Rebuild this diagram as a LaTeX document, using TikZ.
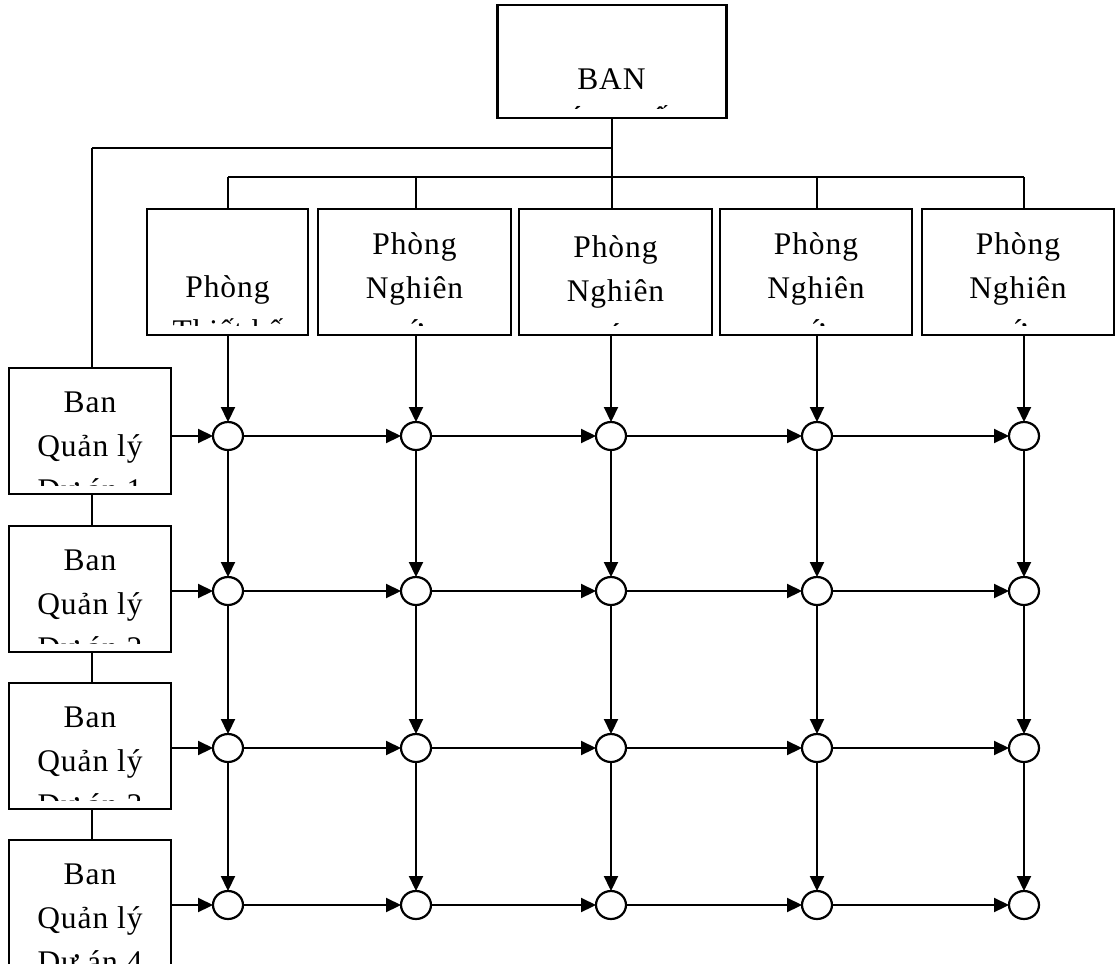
\documentclass[tikz,border=0pt]{standalone}
\usepackage{fontspec}
\setmainfont{Liberation Serif}[LetterSpace=3]
\usetikzlibrary{arrows.meta,shapes.geometric}

\tikzset{
  frame/.style={draw, line width=2.2pt, rectangle, inner sep=0pt, outer sep=0pt},
  deptbox/.style={frame, minimum width=#1, minimum height=126pt},
  projbox/.style={frame, minimum width=162pt, minimum height=126pt},
  junction/.style={draw, line width=2.2pt, ellipse, minimum width=30pt, minimum height=28pt, inner sep=0pt, outer sep=0pt, fill=white},
  txt/.style={anchor=base, inner sep=0pt, font=\fontsize{31.5}{44}\selectfont},
  wire/.style={line width=2.2pt},
  arr/.style={wire, -{Triangle[length=15pt, width=14pt]}}
}

% text lines clipped to the inner area of a box
\newcommand\cliplines[5]{%
  \begin{scope}
    \clip (#1,#2) rectangle (#3,#4);
    #5
  \end{scope}}

\begin{document}
\begin{tikzpicture}[x=1pt, y=-1pt]
\useasboundingbox (0,0) rectangle (1120,964);

% ---- boxes ----
\node[frame, minimum width=229pt, minimum height=113pt] (top) at (612,61.5) {};

\node[deptbox=161pt] (d1) at (227.5,272) {};
\node[deptbox=193pt] (d2) at (414.5,272) {};
\node[deptbox=193pt] (d3) at (615.5,272) {};
\node[deptbox=192pt] (d4) at (816,272) {};
\node[deptbox=192pt] (d5) at (1018,272) {};

\node[projbox] (b1) at (90,431) {};
\node[projbox] (b2) at (90,589) {};
\node[projbox] (b3) at (90,746) {};
\node[projbox] (b4) at (90,903) {};

% ---- box texts ----
\cliplines{497}{5}{726}{108}{%
  \node[txt] (t1) at (611.5,89) {BAN};
  \node[txt] (t2) at (611.5,133) {GIÁM ĐỐC};}

\cliplines{147}{209}{308}{325}{%
  \node[txt] (p1a) at (227.5,297) {Phòng};
  \node[txt] (p1b) at (227.5,341) {Thiết kế};}
\cliplines{318}{209}{511}{325}{%
  \node[txt] (p2a) at (414.5,254) {Phòng};
  \node[txt] (p2b) at (414.5,298) {Nghiên};
  \node[txt] (p2c) at (414.5,341) {cứu};}
\cliplines{519}{209}{712}{325}{%
  \node[txt] (p3a) at (615.5,257) {Phòng};
  \node[txt] (p3b) at (615.5,301) {Nghiên};
  \node[txt] (p3c) at (615.5,345) {cứu};}
\cliplines{720}{209}{912}{325}{%
  \node[txt] (p4a) at (816,254) {Phòng};
  \node[txt] (p4b) at (816,298) {Nghiên};
  \node[txt] (p4c) at (816,341) {cứu};}
\cliplines{922}{209}{1114}{325}{%
  \node[txt] (p5a) at (1018,254) {Phòng};
  \node[txt] (p5b) at (1018,298) {Nghiên};
  \node[txt] (p5c) at (1018,341) {cứu};}

\cliplines{9}{368}{171}{485}{%
  \node[txt] (q1a) at (90,412) {Ban};
  \node[txt] (q1b) at (90,456) {Quản lý};
  \node[txt] (q1c) at (90,500) {Dự án 1};}
\cliplines{9}{526}{171}{643}{%
  \node[txt] (q2a) at (90,570) {Ban};
  \node[txt] (q2b) at (90,614) {Quản lý};
  \node[txt] (q2c) at (90,658) {Dự án 2};}
\cliplines{9}{683}{171}{800}{%
  \node[txt] (q3a) at (90,727) {Ban};
  \node[txt] (q3b) at (90,771) {Quản lý};
  \node[txt] (q3c) at (90,815) {Dự án 3};}
\cliplines{9}{840}{171}{975}{%
  \node[txt] (q4a) at (90,884) {Ban};
  \node[txt] (q4b) at (90,928) {Quản lý};
  \node[txt] (q4c) at (90,972) {Dự án 4};}

% ---- matrix of junctions ----
\foreach \r/\y in {1/436, 2/591, 3/748, 4/905}
  \foreach \c/\x in {1/228, 2/416, 3/611, 4/817, 5/1024}
    \node[junction] (c-\r-\c) at (\x,\y) {};

% ---- tree connectors ----
\coordinate (h1L) at (92,148);
\coordinate (h2L) at (228,177);
\coordinate (h2R) at (1024,177);

\draw[wire] (top.south) -- (top.south |- d3.north);
\draw[wire] (h1L) -- (h1L -| top.south);
\draw[wire] (h1L) -- (h1L |- b1.north);
\draw[wire] (b1.south -| h1L) -- (b2.north -| h1L);
\draw[wire] (b2.south -| h1L) -- (b3.north -| h1L);
\draw[wire] (b3.south -| h1L) -- (b4.north -| h1L);
\draw[wire] (h2L) -- (h2R);
\foreach \c/\d in {1/d1, 2/d2, 4/d4, 5/d5}
  \draw[wire] (c-1-\c |- h2L) -- (c-1-\c |- \d.north);

% ---- department to junction columns ----
\foreach \c/\d in {1/d1, 2/d2, 3/d3, 4/d4, 5/d5}
  \draw[arr] (c-1-\c |- \d.south) -- (c-1-\c.north);
\foreach \c in {1,...,5}
  \foreach \r/\n in {1/2, 2/3, 3/4}
    \draw[arr] (c-\r-\c.south) -- (c-\n-\c.north);

% ---- project rows ----
\foreach \r in {1,...,4}
  \draw[arr] (b\r.east |- c-\r-1) -- (c-\r-1.west);
\foreach \r in {1,...,4}
  \foreach \c/\n in {1/2, 2/3, 3/4, 4/5}
    \draw[arr] (c-\r-\c.east) -- (c-\r-\n.west);

\end{tikzpicture}
\end{document}
